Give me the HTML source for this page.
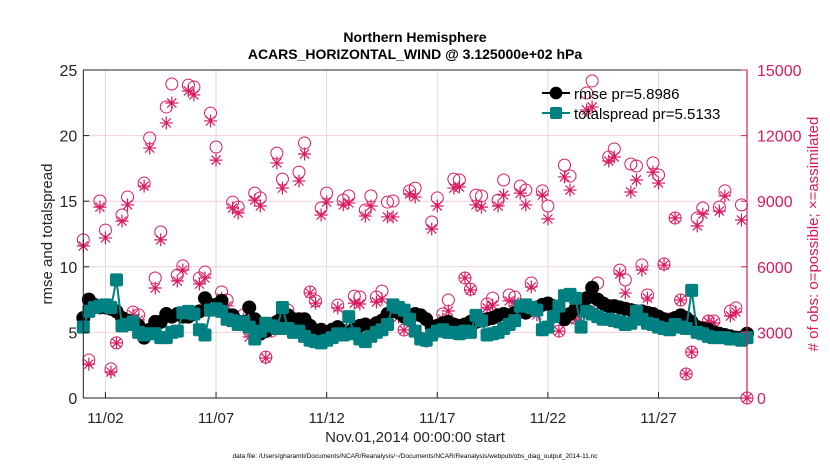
<!DOCTYPE html>
<html><head><meta charset="utf-8"><style>
body{margin:0;background:#fff;}
svg{display:block;font-family:"Liberation Sans",sans-serif;}
</style></head><body>
<svg id="chart" width="830" height="470" viewBox="0 0 830 470">
<g id="grid"></g><g id="obs"></g><g id="lines"></g><g id="axes"></g>
</svg>
<script>
// ---- data ----
const tickDays = [1, 6, 11, 16, 21, 26];
const tickLabels = ["11/02", "11/07", "11/12", "11/17", "11/22", "11/27"];
const leftTicks = [0, 5, 10, 15, 20, 25];
const rightTicks = [0, 3000, 6000, 9000, 12000, 15000];
const rmse = [6.1,7.5,7.1,6.9, 6.9,6.8,6.6,6.1, 5.9,5.7,5.5,4.6, 5.2,5.8,5.8,6.4, 6.2,6.4,6.2,6.2, 6.4,6.6,7.6,7.1, 7.1,7.4,6.3,6.3, 5.8,5.8,6.9,6.0, 4.9,5.1,5.6,5.8, 6.2,6.3,6.0,6.0, 6.0,5.5,4.9,5.2, 5.0,5.2,5.4,5.1, 5.0,5.3,5.5,5.6, 5.4,5.7,5.9,6.4, 6.7,6.5,6.2,6.0, 6.4,6.3,6.0,5.4, 5.5,5.7,5.8,5.6, 5.5,5.6,5.8,5.8, 5.9,6.0,6.1,6.3, 6.4,6.3,6.5,6.6, 6.5,6.7,6.9,7.1, 7.2,7.0,6.5,6.0, 6.4,6.8,7.0,7.6, 8.4,7.5,7.2,7.0, 7.0,6.9,6.8,6.7, 6.6,6.6,6.5,6.4, 6.2,6.0,5.9,6.1, 6.3,6.1,5.8,5.4, 5.3,5.2,5.0,4.9, 4.8,4.7,4.6,4.6, 4.9];
const spread = [5.4,6.6,6.9,7.0, 7.1,6.9,9.0,5.5, 5.6,5.8,5.0,4.8, 4.9,4.9,4.6,4.6, 5.0,5.1,6.5,6.6, 6.4,5.2,4.8,6.7, 6.8,6.6,6.0,5.9, 5.6,5.8,5.4,4.5, 5.1,5.7,5.5,5.3, 6.9,5.3,5.0,5.1, 4.7,4.4,4.3,4.2, 4.4,4.6,4.9,4.8, 6.2,4.9,4.5,4.3, 4.7,5.0,5.2,5.6, 7.1,6.9,6.7,6.0, 5.1,4.5,4.4,4.8, 5.1,5.2,5.0,5.0, 4.9,5.1,5.0,6.3, 5.9,4.8,4.9,5.0, 5.3,5.6,5.9,7.0, 7.1,6.9,6.7,5.2, 5.4,6.2,7.0,7.8, 7.9,7.6,5.4,6.6, 6.4,6.2,6.0,6.0, 5.9,5.8,5.6,5.7, 6.6,6.0,5.7,5.6, 5.4,5.3,5.2,5.6, 5.4,5.3,8.2,5.0, 4.9,4.7,4.6,4.6, 4.6,4.5,4.5,4.4, 4.6];
const obsDays = [0,0.75,1,1.75,2,2.75,3,3.5,3.75,4,4.75,5,5.75,6,6.75,7,7.75,8,8.75,9,9.75,10,10.75,11,11.75,12,12.75,13,13.75,14,14.75,15,15.75,16,16.75,17,17.75,18,18.75,19,19.75,20,20.75,21,21.75,22,22.75,23,23.75,24,24.75,25,25.75,26,26.75,27.75,28,28.75,29,29.75,
 0.25,0.5,1.25,1.5,2.25,2.5,3.25,4.25,4.5,5.25,5.5,6.25,6.5,7.25,7.5,8.25,8.5,9.25,9.5,10.25,10.5,11.5,12.25,12.5,13.25,13.5,14.25,14.5,15.25,15.5,16.25,16.5,17.25,17.5,18.25,18.5,19.25,19.5,20.25,20.5,21.25,21.5,22.25,22.5,23.25,23.5,24.25,24.5,25.25,25.5,26.25,26.5,27,27.25,27.5,28.25,28.5,29.25,29.5,30];
const obsPossible = [7230,9010,7680,8370,9190,9830,11890,7590,13310,14360,14310,14220,13030,11480,8960,8730,9370,9150,11200,10010,10330,11660,8690,9370,9050,9240,8600,9240,8960,9010,9470,9600,8050,9150,10010,9970,9280,9240,9050,9970,9690,9510,9470,8780,10650,10150,13950,14500,11020,11390,10700,10610,10750,10200,8230,8230,8690,8730,9470,8830,
 1740,4120,1330,2520,3930,3800,5490,5620,6040,5490,5760,4850,4480,3800,3060,1870,3060,4020,3340,4850,4440,4250,4660,4620,4620,4890,3980,3110,2740,2610,3840,4480,5490,4980,4300,4570,4710,4620,5260,4120,4020,3060,3660,4160,5260,4020,5850,5400,6080,4710,6130,3610,4480,1100,2100,3520,3520,3980,4120,0];
const obsAssimilated = [6950,8730,7320,8090,8830,9690,11430,7230,12580,13490,14040,13860,12670,10880,8690,8460,9050,8780,10750,9600,9920,11160,8370,8960,8830,8920,8320,8780,8280,8280,9330,9190,7730,8780,9600,9650,8830,8730,8780,9280,9370,8830,9280,8190,10110,9510,13170,13310,10840,11020,9420,9970,10330,9830,8230,7870,8410,8550,9240,8140,
 1550,4120,1190,2520,3800,3570,5030,5350,5850,5210,5490,4570,4210,3610,2790,1830,3110,3840,3110,4800,4340,4120,4340,4300,4390,4530,3700,3110,2740,2610,3610,3980,5490,4940,4120,4250,4440,4390,5080,3800,3750,3060,3570,3890,4340,3700,5670,4800,5850,4570,6080,3610,4480,1100,2100,3480,3430,3750,3930,0];

// ---- scales ----
const X0=83.3, X1=747, Y0=398, Y1=70;
const xS = d => X0 + d/30*(X1-X0);
const yL = v => Y0 - v/25*(Y0-Y1);
const yR = v => Y0 - v/15000*(Y0-Y1);
const NS="http://www.w3.org/2000/svg";
const CR="#d81b60";
function mk(parent, tag, attrs){const e=document.createElementNS(NS,tag);for(const k in attrs)e.setAttribute(k,attrs[k]);parent.appendChild(e);return e;}
const G=document.getElementById('grid'),O=document.getElementById('obs'),L=document.getElementById('lines'),A=document.getElementById('axes');

// grid
tickDays.forEach(d=>{const e=mk(G,'line',{x1:xS(d),x2:xS(d),y1:Y1,y2:Y0,stroke:'#dcdcdc','stroke-width':1});

});
rightTicks.forEach(v=>{if(v===0||v===15000)return;const e=mk(G,'line',{x1:X0,x2:X1,y1:yR(v),y2:yR(v),stroke:'#f2d0dc','stroke-width':1});

});

// obs markers
obsDays.forEach((d,i)=>{
 const cx=xS(d), cyo=yR(obsPossible[i]), cya=yR(obsAssimilated[i]);
 const c=mk(O,'circle',{cx:cx,cy:cyo,r:6,fill:'none',stroke:CR,'stroke-width':1});
 
 
 const s=6.5;
 const p=mk(O,'path',{d:`M${cx-s},${cya}H${cx+s}M${cx},${cya-s}V${cya+s}M${cx-s*0.7},${cya-s*0.7}L${cx+s*0.7},${cya+s*0.7}M${cx-s*0.7},${cya+s*0.7}L${cx+s*0.7},${cya-s*0.7}`,stroke:CR,'stroke-width':1.2,fill:'none'});
 
 
});

// series lines
function series(vals,color,name,marker){
 const pts=vals.map((v,i)=>xS(i*0.25)+','+yL(v)).join(' ');
 const pl=mk(L,'polyline',{points:pts,fill:'none',stroke:color,'stroke-width':2});
 
 
 vals.forEach((v,i)=>{
  let m;
  if(marker==='circle') m=mk(L,'circle',{cx:xS(i*0.25),cy:yL(v),r:7,fill:color});
  else m=mk(L,'rect',{x:xS(i*0.25)-6.5,y:yL(v)-6.5,width:13,height:13,rx:2,fill:color});
  
  
 });
}
series(rmse,'#000','rmse','circle');
series(spread,'#008080','totalspread','square');

// axes
function txt(parent,x,y,s,attrs,name){const t=mk(parent,'text',Object.assign({x:x,y:y},attrs));t.textContent=s;

return t;}
mk(A,'line',{x1:X0,x2:X1,y1:Y1,y2:Y1,stroke:'#222','stroke-width':1});
mk(A,'line',{x1:X0,x2:X1,y1:Y0,y2:Y0,stroke:'#222','stroke-width':1});
mk(A,'line',{x1:X0,x2:X0,y1:Y1,y2:Y0,stroke:'#222','stroke-width':1});
mk(A,'line',{x1:X1,x2:X1,y1:Y1,y2:Y0,stroke:CR,'stroke-width':1.2});
tickDays.forEach((d,i)=>{mk(A,'line',{x1:xS(d),x2:xS(d),y1:Y0,y2:Y0-6,stroke:'#222'});
 txt(A,xS(d),423,tickLabels[i],{'font-size':15,'text-anchor':'middle',fill:'#262626'},'x-tick-label');});
leftTicks.forEach(v=>{mk(A,'line',{x1:X0,x2:X0+6,y1:yL(v),y2:yL(v),stroke:'#222'});
 txt(A,X0-6,yL(v)+6,String(v),{'font-size':16,'text-anchor':'end',fill:'#262626'},'left-y-tick-label');});
rightTicks.forEach(v=>{mk(A,'line',{x1:X1,x2:X1-6,y1:yR(v),y2:yR(v),stroke:CR});
 txt(A,X1+10,yR(v)+6,String(v),{'font-size':16,fill:CR},'right-y-tick-label');});

// titles
txt(A,415,42,'Northern Hemisphere',{'font-size':14,'font-weight':'bold','text-anchor':'middle',fill:'#000'},'chart-title');
txt(A,415,59,'ACARS_HORIZONTAL_WIND @ 3.125000e+02 hPa',{'font-size':14,'font-weight':'bold','text-anchor':'middle',fill:'#000'},'chart-subtitle');
txt(A,415,442,'Nov.01,2014 00:00:00 start',{'font-size':15,'text-anchor':'middle',fill:'#262626'},'x-axis-title');
txt(A,415,458,'data file: /Users/gharamti/Documents/NCAR/Reanalysis/~/Documents/NCAR/Reanalysis/webpub/obs_diag_output_2014-11.nc',{'font-size':6.5,'text-anchor':'middle',fill:'#000'},'data-file-caption');
txt(A,0,0,'rmse and totalspread',{'font-size':15,'text-anchor':'middle',fill:'#262626',transform:'translate(52,234) rotate(-90)'},'left-y-axis-title');
txt(A,0,0,'# of obs: o=possible; \u00d7=assimilated',{'font-size':15,'text-anchor':'middle',fill:CR,transform:'translate(818,234) rotate(-90)'},'right-y-axis-title');

// legend
const lg=mk(A,'g',{});


mk(lg,'line',{x1:542,x2:570,y1:93,y2:93,stroke:'#000','stroke-width':2});
mk(lg,'circle',{cx:556,cy:93,r:6.3,fill:'#000'});
txt(lg,574,99,'rmse pr=5.8986',{'font-size':15,fill:'#000'},'legend-entry-rmse');
mk(lg,'line',{x1:542,x2:570,y1:113,y2:113,stroke:'#008080','stroke-width':2});
mk(lg,'rect',{x:550,y:107,width:12,height:12,rx:2,fill:'#008080'});
txt(lg,574,119,'totalspread pr=5.5133',{'font-size':15,fill:'#000'},'legend-entry-totalspread');
</script>
</body></html>
